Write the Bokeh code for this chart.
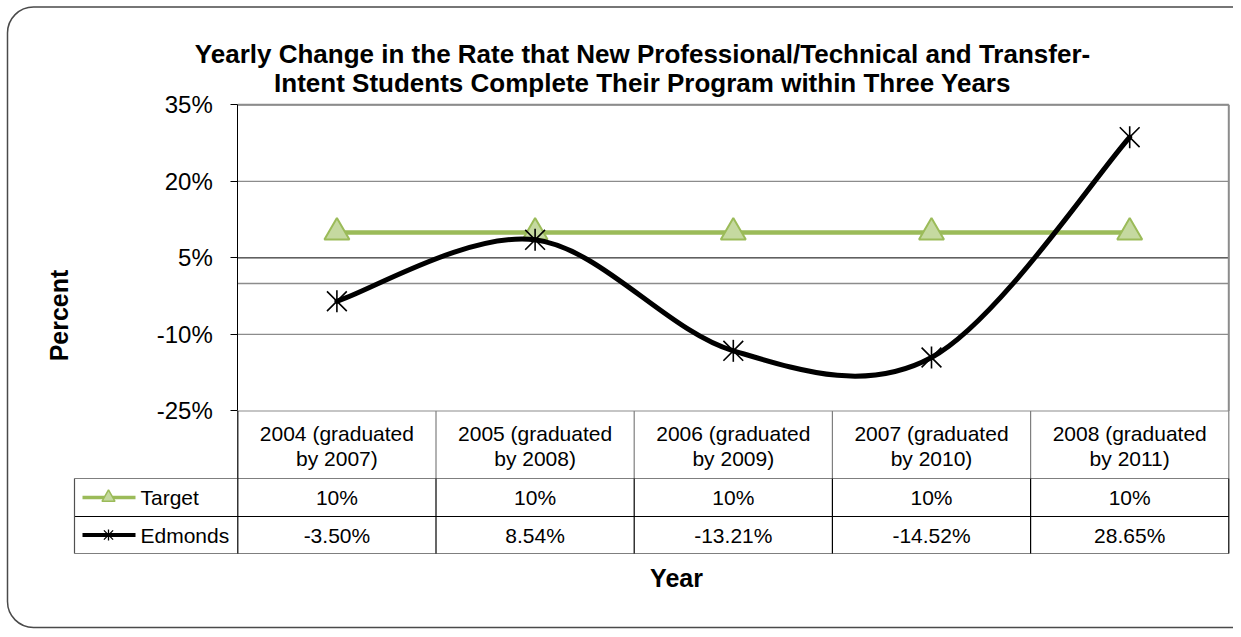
import numpy as np
from bokeh.plotting import figure
from bokeh.models import Range1d, LinearAxis, FixedTicker, PrintfTickFormatter, BoxAnnotation
from bokeh.core.properties import value
from bokeh.embed import file_html
from bokeh.resources import INLINE

# ---------------- data ----------------
title_lines = ["Yearly Change in the Rate that New Professional/Technical and Transfer-",
               "Intent Students Complete Their Program within Three Years"]
categories = ["2004 (graduated by 2007)", "2005 (graduated by 2008)", "2006 (graduated by 2009)",
              "2007 (graduated by 2010)", "2008 (graduated by 2011)"]
series_names = ["Target", "Edmonds"]
target = [10, 10, 10, 10, 10]
edmonds = [-3.50, 8.54, -13.21, -14.52, 28.65]
y_ticks = [-25, -10, 5, 20, 35]
y_label = "Percent"
x_label = "Year"

# ---------------- layout (screen pixels -> data coordinates) ----------------
W, H = 1233, 629
ORIGIN = 0
PLOT_LEFT_PX = 237.3
COL_W_PX = 198.2
PLOT_TOP_PX = 104.3
PX_PER_PCT = 5.103
Y_MAX, Y_MIN = 35, -25


def X(px):
    return -0.5 + (px - PLOT_LEFT_PX) / COL_W_PX


def Y(py):
    return Y_MAX - (py - PLOT_TOP_PX) / PX_PER_PCT


FONT = value("Liberation Sans")
GREEN = "#9BBB59"
GREEN_FILL = "#C5D9A0"
GRID = "#8C8C8C"

p = figure(width=W, height=H, x_range=Range1d(X(ORIGIN), X(ORIGIN + W)),
           y_range=Range1d(Y(ORIGIN + H), Y(ORIGIN)),
           x_axis_type=None, y_axis_type=None, toolbar_location=None,
           output_backend="svg", min_border=0, title=None)
p.outline_line_color = None
p.background_fill_color = "white"
p.border_fill_color = "white"

n = len(categories)
xs = np.arange(n)
x_lo, x_hi = -0.5, n - 0.5

# ---------------- outer rounded border ----------------
p.add_layout(BoxAnnotation(left=X(7), right=X(1262), top=Y(6.5), bottom=Y(627),
                           fill_color=None, fill_alpha=0, line_color="#4A4A4A",
                           line_alpha=1.0, line_width=1.5, border_radius=26))

# ---------------- gridlines ----------------
grid_vals = [t for t in y_ticks if t not in (5,)]
p.segment(x0=[x_lo] * len(grid_vals), x1=[x_hi] * len(grid_vals), y0=grid_vals, y1=grid_vals,
          line_color=GRID, line_width=1.2)
p.segment(x0=[x_lo], x1=[x_hi], y0=[0], y1=[0], line_color=GRID, line_width=1.5)
p.segment(x0=[x_lo], x1=[x_hi], y0=[5], y1=[5], line_color="black", line_width=1)
p.segment(x0=[x_lo], x1=[x_hi], y0=[Y_MAX], y1=[Y_MAX], line_color=GRID, line_width=2)
p.segment(x0=[x_hi], x1=[x_hi], y0=[Y_MIN], y1=[Y_MAX], line_color=GRID, line_width=2)

# ---------------- y axis ----------------
yaxis = LinearAxis(fixed_location=x_lo, bounds=(Y_MIN, Y_MAX),
                   ticker=FixedTicker(ticks=y_ticks),
                   formatter=PrintfTickFormatter(format="%d%%"))
yaxis.major_tick_in = 0
yaxis.major_tick_out = 7
yaxis.minor_tick_line_color = None
yaxis.axis_line_color = "black"
yaxis.major_tick_line_color = "black"
yaxis.major_label_text_font = "Liberation Sans"
yaxis.major_label_text_font_size = "24px"
yaxis.major_label_text_color = "black"
yaxis.major_label_standoff = 18
p.add_layout(yaxis, "left")

# ---------------- series ----------------
p.line(xs, target, line_color=GREEN, line_width=4.5)
p.scatter(xs, target, marker="triangle", size=25, fill_color=GREEN_FILL, line_color=GREEN,
          line_width=2)

# smoothed (Catmull-Rom -> Bezier) Edmonds curve
P = np.column_stack([xs, edmonds]).astype(float)
x0, y0, x1, y1, cx0, cy0, cx1, cy1 = ([] for _ in range(8))
for i in range(n - 1):
    prev_p = P[i - 1] if i > 0 else P[i]
    next_p = P[i + 2] if i + 2 < n else P[i + 1]
    c0 = P[i] + (P[i + 1] - prev_p) / 6.0
    c1 = P[i + 1] - (next_p - P[i]) / 6.0
    x0.append(P[i][0]); y0.append(P[i][1])
    x1.append(P[i + 1][0]); y1.append(P[i + 1][1])
    cx0.append(c0[0]); cy0.append(c0[1])
    cx1.append(c1[0]); cy1.append(c1[1])
p.bezier(x0=x0, y0=y0, x1=x1, y1=y1, cx0=cx0, cy0=cy0, cx1=cx1, cy1=cy1,
         line_color="black", line_width=5, line_cap="round")
p.scatter(xs, edmonds, marker="x", size=28, line_color="black", line_width=1.6)
p.scatter(xs, edmonds, marker="dash", angle=np.pi / 2, size=22, line_color="black",
          line_width=1.6)

# ---------------- data table ----------------
row_tops = [410.5, 478, 516, 553]
tbl_left = 74
p.segment(x0=[X(tbl_left)] * 3, x1=[x_hi] * 3, y0=[Y(v) for v in row_tops[1:]],
          y1=[Y(v) for v in row_tops[1:]], line_color=["#7F7F7F", "black", "#7F7F7F"],
          line_width=1.2)
p.segment(x0=[X(tbl_left)], x1=[X(tbl_left)], y0=[Y(row_tops[1])], y1=[Y(row_tops[3])],
          line_color="#505050", line_width=1.2)
bx = [x_lo + k for k in range(n + 1)]
p.segment(x0=bx, x1=bx, y0=[Y_MIN] * len(bx), y1=[Y(row_tops[1])] * len(bx),
          line_color=["black"] + ["#7F7F7F"] * n, line_width=1.2)
p.segment(x0=bx, x1=bx, y0=[Y(row_tops[1])] * len(bx), y1=[Y(row_tops[3])] * len(bx),
          line_color="black", line_width=1.2)

line1 = [c.split(" by ")[0] for c in categories]
line2 = ["by " + c.split(" by ")[1] for c in categories]
p.text(xs, [Y(432.5)] * n, text=line1, text_font=FONT, text_font_size=value("21px"),
       text_align="center", text_baseline="middle", text_color="black")
p.text(xs, [Y(458)] * n, text=line2, text_font=FONT, text_font_size=value("21px"),
       text_align="center", text_baseline="middle", text_color="black")

target_lbl = [f"{v:g}%" for v in target]
edm_lbl = [f"{v:.2f}%" for v in edmonds]
row_y = [Y(497), Y(534.5)]
p.text(xs, [row_y[0]] * n, text=target_lbl, text_font=FONT, text_font_size=value("21px"),
       text_align="center", text_baseline="middle", text_color="black")
p.text(xs, [row_y[1]] * n, text=edm_lbl, text_font=FONT, text_font_size=value("21px"),
       text_align="center", text_baseline="middle", text_color="black")

p.text([X(140)] * 2, row_y, text=series_names, text_font=FONT, text_font_size=value("21px"),
       text_align="left", text_baseline="middle", text_color="black")
p.segment(x0=[X(82)], x1=[X(135)], y0=[row_y[0]], y1=[row_y[0]], line_color=GREEN,
          line_width=3.5)
p.scatter([X(108)], [row_y[0]], marker="triangle", size=13, fill_color=GREEN_FILL,
          line_color=GREEN, line_width=1.5)
p.segment(x0=[X(82)], x1=[X(135)], y0=[row_y[1]], y1=[row_y[1]], line_color="black",
          line_width=4)
p.scatter([X(108)], [row_y[1]], marker="x", size=13, line_color="black", line_width=1.3)
p.scatter([X(108)], [row_y[1]], marker="dash", angle=np.pi / 2, size=11, line_color="black",
          line_width=1.3)

# ---------------- titles / axis labels ----------------
p.text([X(642)] * 2, [Y(53), Y(82)], text=title_lines, text_font=FONT,
       text_font_size=value("26px"), text_font_style="bold", text_align="center",
       text_baseline="middle", text_color="black")
p.text([X(58)], [Y(315)], text=[y_label], angle=np.pi / 2, text_font=FONT,
       text_font_size=value("25px"), text_font_style="bold", text_align="center",
       text_baseline="middle", text_color="black")
p.text([X(676)], [Y(577)], text=[x_label], text_font=FONT,
       text_font_size=value("25px"), text_font_style="bold", text_align="center",
       text_baseline="middle", text_color="black")

open("out.html", "w").write(file_html(p, INLINE))
